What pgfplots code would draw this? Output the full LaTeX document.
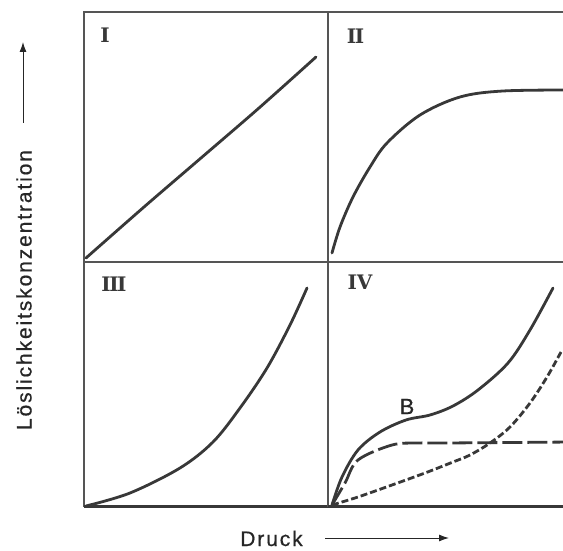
\documentclass[border=0pt]{standalone}
\usepackage{pgfplots}
\pgfplotsset{compat=1.18}
\usepackage{fontspec}
\setmainfont{Liberation Sans}
\newfontfamily\labelfont[LetterSpace=9,FakeBold=0.6]{Liberation Sans}
\newfontfamily\numfont{DejaVu Serif}
\usetikzlibrary{arrows.meta}
\definecolor{ink}{HTML}{383838}
\definecolor{frame}{HTML}{555555}
\definecolor{txt}{HTML}{262626}
\tikzset{numlabel/.style={font=\numfont\bfseries\fontsize{20}{20}\selectfont, text=ink}}
\pgfplotsset{
  panel/.style={scale only axis, anchor=south west, width=244pt,
    xmin=0, xmax=244, ymin=0, ticks=none,
    axis line style={draw=frame, line width=1.7pt}, clip=false},
  curve/.style={draw=ink, line width=2.8pt, smooth, tension=0.55, line cap=round}
}
\begin{document}
\begin{tikzpicture}[x=1pt,y=1pt]
\path[use as bounding box] (0,0) rectangle (563,550);
% Panel I
\begin{axis}[panel, at={(84,288)}, height=250pt, ymax=250]
\addplot[curve] coordinates {(2,4) (60,55) (117,104) (175,154) (232,205)};
\node[numlabel] at (axis cs:21,226.5) {I};
\end{axis}
% Panel II
\begin{axis}[panel, at={(328,288)}, height=250pt, ymax=250]
\addplot[curve] coordinates {(4,9) (12,35) (25,65) (42,95) (59,119) (92,147) (132,165) (175,171) (244,172)};
\node[numlabel] at (axis cs:27.5,226) {I\kern-1.5pt I};
\end{axis}
% Panel III
\begin{axis}[panel, at={(84,44)}, height=244pt, ymax=244]
\addplot[curve] coordinates {(2,0) (46,13) (96,38) (129,64) (156,98) (183,138) (206,181) (223,218)};
\draw[draw=ink, line width=3pt] (axis cs:0,0) -- (axis cs:244,0);
\node[numlabel] at (axis cs:30,222) {I\kern-1.5pt I\kern-1.5pt I};
\end{axis}
% Panel IV
\begin{axis}[panel, at={(328,44)}, height=244pt, ymax=244]
\addplot[curve] coordinates {(4,1) (14,29) (30,56) (52,74) (78,86) (102,91) (125,100) (150,116) (180,143) (202,176) (225,218)};
\addplot[curve, dash pattern=on 20pt off 5pt, line cap=butt] coordinates {(4,1) (17,23) (30,46) (64,61) (90,63) (117,63) (244,64)};
\addplot[curve, dash pattern=on 7pt off 3pt, line cap=butt] coordinates {(4,1) (30,9) (64,21) (97,33) (125,44) (142,51) (162,63) (182,79) (202,103) (219,129) (233,154)};
\draw[draw=ink, line width=3pt] (axis cs:0,0) -- (axis cs:244,0);
\node[numlabel] at (axis cs:32,223.5) {IV};
\node[font=\labelfont\fontsize{22}{22}\selectfont, text=txt] at (axis cs:79,99.5) {B};
\end{axis}
% axis titles
\node[rotate=90, font=\labelfont\fontsize{21}{21}\selectfont, text=txt, inner sep=0pt] at (24,260) {Löslichkeitskonzentration};
\draw[-{Latex[length=10pt,width=7pt]}, line width=1pt, draw=txt] (23,427) -- (23,508);
\node[font=\labelfont\fontsize{21}{21}\selectfont, text=txt, inner sep=0pt, anchor=base] at (271.5,4) {Druck};
\draw[-{Latex[length=10pt,width=7pt]}, line width=1pt, draw=txt] (325,12) -- (449,12);
\end{tikzpicture}
\end{document}
